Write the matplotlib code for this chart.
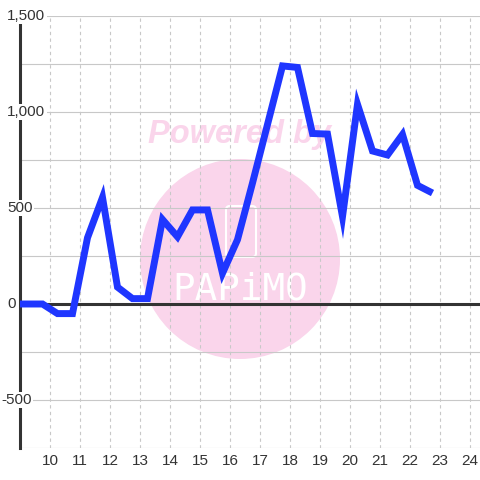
import matplotlib
matplotlib.use("Agg")
import matplotlib.pyplot as plt
from matplotlib.patches import Circle, FancyBboxPatch
import numpy as np

# half-hour values, centred on quarter past / quarter to
hours = [8.75, 9.25, 9.75, 10.25, 10.75, 11.25, 11.75, 12.25, 12.75, 13.25,
         13.75, 14.25, 14.75, 15.25, 15.75, 16.25, 16.75, 17.25, 17.75, 18.25,
         18.75, 19.25, 19.75, 20.25, 20.75, 21.25, 21.75, 22.25, 22.75]
values = [0, 0, 0, -50, -50, 345, 555, 88, 28, 28,
          440, 350, 490, 490, 160, 335, 630, 935, 1240, 1232,
          888, 885, 455, 1040, 797, 776, 883, 618, 578]

xticks = list(range(10, 25))
xlabels = [str(h) for h in xticks]
ygrid = list(range(-750, 1501, 250))
yticks = [1500, 1000, 500, 0, -500]
ylabels = ["1,500", "1,000", "500", "0", "-500"]

plt.rcParams['font.family'] = ['Liberation Sans', 'DejaVu Sans']

fig = plt.figure(figsize=(4.8, 4.8), dpi=100)
ax = fig.add_axes([20/480, 32/480, 460/480, 432/480])
ax.set_xlim(9, 9 + 460/30)
ax.set_ylim(-750, 1500)

# watermark (behind the grid)
ft = fig.transFigure
ax.add_patch(Circle((240/480, 221/480), 100/480, transform=ft, clip_on=False,
                    facecolor='#fad5eb', edgecolor='none', zorder=0.1))
ax.text(240/480, 346/480, "Powered by", transform=ft, color='#fad5eb',
        fontsize=23.5, fontweight='bold', fontstyle='italic',
        ha='center', va='center', zorder=0.1)
ax.add_patch(FancyBboxPatch((226/480, 223/480), 30/480, 51/480, transform=ft,
                            clip_on=False,
                            boxstyle='round,pad=0,rounding_size=0.008',
                            facecolor='none', edgecolor='white', lw=1.5,
                            zorder=0.2))
ax.text(240/480, 191/480, "PAPiMO", transform=ft, color='white', fontsize=27,
        family='DejaVu Sans Mono', ha='center', va='center', zorder=0.2)

# grid
ax.set_yticks(ygrid)
ax.set_yticklabels([])
ax.set_xticks(xticks, xlabels)
ax.tick_params(length=0, labelsize=11, labelcolor='#333333', pad=4)
ax.grid(axis='y', color='#c8c8c8', lw=0.8, zorder=0.5)
ax.grid(axis='x', color='#c8c8c8', lw=0.8, ls=(0, (3, 3)), zorder=0.5)
ax.set_axisbelow(True)

for s in ['top', 'right', 'bottom']:
    ax.spines[s].set_visible(False)
ax.spines['left'].set_color('#333333')
ax.spines['left'].set_linewidth(2.2)

ax.axhline(0, color='#333333', lw=2.2, zorder=2.6)

ax.plot(hours, values, color='#1f36ff', lw=5, zorder=4,
        solid_joinstyle='miter', solid_capstyle='butt')

for v, lab in zip(yticks, ylabels):
    x0 = -19/460 if lab.startswith('-') else -13/460
    ax.text(x0, v, lab, transform=ax.get_yaxis_transform(), ha='left',
            va='center', fontsize=11, color='#333333', zorder=5,
            bbox=dict(facecolor='white', edgecolor='none', pad=1))

fig.savefig("out.png", dpi=100)
